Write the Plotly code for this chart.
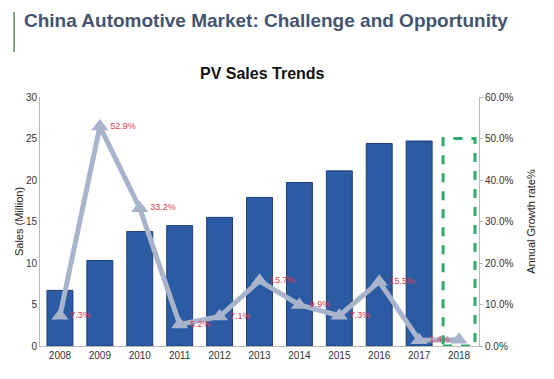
import plotly.graph_objects as go

years = ["2008", "2009", "2010", "2011", "2012", "2013", "2014", "2015", "2016", "2017", "2018"]
sales = [6.7, 10.3, 13.8, 14.5, 15.5, 17.9, 19.7, 21.1, 24.4, 24.7, None]
growth = [7.3, 52.9, 33.2, 5.2, 7.1, 15.7, 9.9, 7.3, 15.5, 1.4, 1.5]
growth_labels = ["7.3%", "52.9%", "33.2%", "5.2%", "7.1%", "15.7%", "9.9%", "7.3%", "15.5%", "1.4%", ""]
target_year = "2018"
target_sales = 25.0

fig = go.Figure()
fig.add_trace(go.Bar(
    x=years, y=sales, width=0.65,
    marker=dict(color="#2B5BA3", line=dict(color="#1C3F7A", width=1)),
    showlegend=False, hoverinfo="skip",
))
fig.add_trace(go.Scatter(
    x=years, y=growth, yaxis="y2", mode="lines+markers+text",
    line=dict(color="#A8B4CB", width=5),
    marker=dict(symbol="triangle-up", size=15, color="#A8B4CB"),
    text=growth_labels, textposition="middle right",
    textfont=dict(color="#E03A4A", size=9, family="Arial"),
    showlegend=False, cliponaxis=False,
))

ti = years.index(target_year)
fig.add_shape(type="rect", xref="x", yref="y", x0=ti - 0.4, x1=ti + 0.4, y0=0, y1=target_sales,
              line=dict(color="#2EAA6A", width=3, dash="dash"), fillcolor="rgba(0,0,0,0)", layer="above")

fig.add_shape(type="line", xref="paper", yref="paper", x0=-0.059, x1=-0.059, y0=1.181, y1=1.341,
              line=dict(color="#5E8A5A", width=1.5))

fig.update_layout(
    width=546, height=371,
    margin=dict(l=32, r=75, t=89, b=33),
    paper_bgcolor="white", plot_bgcolor="white",
    font=dict(family="Arial, Liberation Sans", color="#333333", size=10),
    bargap=0.35,
    xaxis=dict(type="category", range=[-0.5, len(years) - 0.5], automargin=False, showline=True,
               linecolor="#BBBBBB", ticks="", tickfont=dict(size=10, color="#333333")),
    yaxis=dict(range=[0, 30], dtick=5, automargin=False, showgrid=False, showline=True, linecolor="#BBBBBB",
               ticks="", tickfont=dict(size=10), zeroline=False,
               title=dict(text="Sales (Million)", font=dict(size=11, color="#222222"), standoff=0)),
    yaxis2=dict(range=[0, 60], dtick=10, automargin=False, overlaying="y", side="right", showgrid=False,
                showline=True, linecolor="#BBBBBB", ticks="outside", ticklen=3, tickcolor="#BBBBBB",
                ticksuffix="%", tickformat=".1f", tickfont=dict(size=10), zeroline=False,
                title=dict(text="Annual Growth rate%", font=dict(size=11, color="#222222"), standoff=14)),
    annotations=[
        dict(text="<b>China Automotive Market: Challenge and Opportunity</b>", xref="paper", yref="paper",
             x=-0.041, y=1.309, xanchor="left", yanchor="middle", showarrow=False,
             font=dict(size=19, color="#44546F", family="Arial, Liberation Sans")),
        dict(text="<b>PV Sales Trends</b>", xref="paper", yref="paper",
             x=0.506, y=1.096, xanchor="center", yanchor="middle", showarrow=False,
             font=dict(size=16, color="#111111", family="Arial, Liberation Sans")),
    ],
)

fig.write_html("out.html")
